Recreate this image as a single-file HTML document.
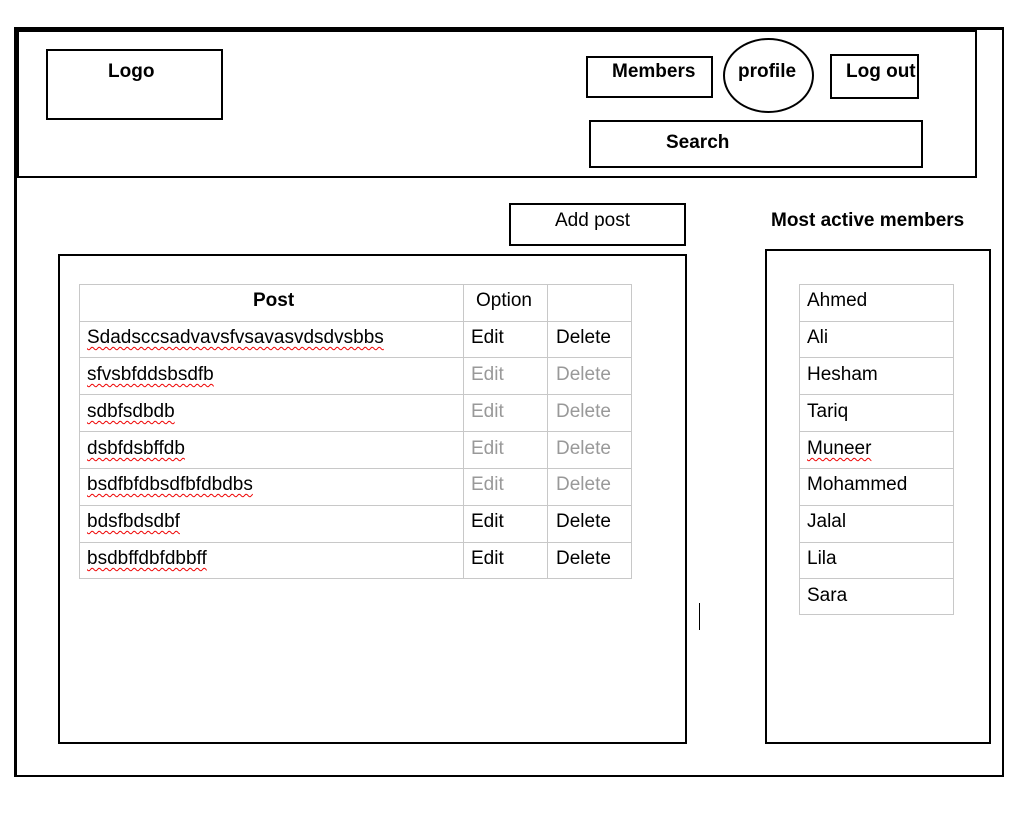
<!DOCTYPE html>
<html><head><style>
body{margin:0;width:1022px;height:817px;background:#fff;position:relative;overflow:hidden;font-family:"Liberation Sans",sans-serif;color:#000}
.b{position:absolute;border:2.5px solid #000;box-sizing:border-box}
.t{position:absolute;font-size:19px;white-space:nowrap;letter-spacing:0px}
.bold{font-weight:bold}
.g{color:#999}
.u{text-decoration:underline wavy #e00;text-decoration-thickness:1px;text-underline-offset:3px}
.h{position:absolute;height:1px;background:#c8c8c8}
.v{position:absolute;width:1px;background:#c8c8c8}
</style></head><body>
<div class="b" style="left:14px;top:27px;width:990px;height:750px;border-width:2.5px;border-top-width:3.5px;border-left-width:3px"></div>
<div class="b" style="left:17px;top:30px;width:960px;height:148px"></div>
<div class="b" style="left:46px;top:49px;width:177px;height:71px"></div>
<div class="t bold" style="left:108px;top:61px">Logo</div>
<div class="b" style="left:586px;top:56px;width:127px;height:42px"></div>
<div class="t bold" style="left:612px;top:61px">Members</div>
<div class="b" style="left:723px;top:38px;width:91px;height:75px;border-radius:50%"></div>
<div class="t bold" style="left:738px;top:61px">profile</div>
<div class="b" style="left:830px;top:54px;width:89px;height:45px"></div>
<div class="t bold" style="left:846px;top:61px">Log out</div>
<div class="b" style="left:589px;top:120px;width:334px;height:48px"></div>
<div class="t bold" style="left:666px;top:132px">Search</div>
<div class="b" style="left:509px;top:203px;width:177px;height:43px"></div>
<div class="t" style="left:555px;top:210px">Add post</div>
<div class="t bold" style="left:771px;top:210px">Most active members</div>
<div class="b" style="left:58px;top:254px;width:629px;height:490px"></div>
<div class="b" style="left:765px;top:249px;width:226px;height:495px"></div>
<div style="position:absolute;left:699px;top:603px;width:1px;height:27px;background:#000"></div>

<div class="h" style="left:79px;width:553px;top:284px"></div>
<div class="h" style="left:79px;width:553px;top:321px"></div>
<div class="h" style="left:79px;width:553px;top:357px"></div>
<div class="h" style="left:79px;width:553px;top:394px"></div>
<div class="h" style="left:79px;width:553px;top:431px"></div>
<div class="h" style="left:79px;width:553px;top:468px"></div>
<div class="h" style="left:79px;width:553px;top:505px"></div>
<div class="h" style="left:79px;width:553px;top:542px"></div>
<div class="h" style="left:79px;width:553px;top:578px"></div>
<div class="v" style="left:79px;top:284px;height:294px"></div>
<div class="v" style="left:463px;top:284px;height:294px"></div>
<div class="v" style="left:547px;top:284px;height:294px"></div>
<div class="v" style="left:631px;top:284px;height:294px"></div>
<div class="t bold" style="left:253px;top:290px">Post</div>
<div class="t" style="left:476px;top:290px">Option</div>
<div class="t u" style="left:87px;top:327px">Sdadsccsadvavsfvsavasvdsdvsbbs</div><div class="t" style="left:471px;top:327px">Edit</div><div class="t" style="left:556px;top:327px">Delete</div>
<div class="t u" style="left:87px;top:364px">sfvsbfddsbsdfb</div><div class="t g" style="left:471px;top:364px">Edit</div><div class="t g" style="left:556px;top:364px">Delete</div>
<div class="t u" style="left:87px;top:401px">sdbfsdbdb</div><div class="t g" style="left:471px;top:401px">Edit</div><div class="t g" style="left:556px;top:401px">Delete</div>
<div class="t u" style="left:87px;top:438px">dsbfdsbffdb</div><div class="t g" style="left:471px;top:438px">Edit</div><div class="t g" style="left:556px;top:438px">Delete</div>
<div class="t u" style="left:87px;top:474px">bsdfbfdbsdfbfdbdbs</div><div class="t g" style="left:471px;top:474px">Edit</div><div class="t g" style="left:556px;top:474px">Delete</div>
<div class="t u" style="left:87px;top:511px">bdsfbdsdbf</div><div class="t" style="left:471px;top:511px">Edit</div><div class="t" style="left:556px;top:511px">Delete</div>
<div class="t u" style="left:87px;top:548px">bsdbffdbfdbbff</div><div class="t" style="left:471px;top:548px">Edit</div><div class="t" style="left:556px;top:548px">Delete</div>

<div class="h" style="left:799px;width:155px;top:284px"></div>
<div class="h" style="left:799px;width:155px;top:321px"></div>
<div class="h" style="left:799px;width:155px;top:357px"></div>
<div class="h" style="left:799px;width:155px;top:394px"></div>
<div class="h" style="left:799px;width:155px;top:431px"></div>
<div class="h" style="left:799px;width:155px;top:468px"></div>
<div class="h" style="left:799px;width:155px;top:505px"></div>
<div class="h" style="left:799px;width:155px;top:542px"></div>
<div class="h" style="left:799px;width:155px;top:578px"></div>
<div class="h" style="left:799px;width:155px;top:614px"></div>
<div class="v" style="left:799px;top:284px;height:330px"></div>
<div class="v" style="left:953px;top:284px;height:330px"></div>
<div class="t" style="left:807px;top:290px">Ahmed</div>
<div class="t" style="left:807px;top:327px">Ali</div>
<div class="t" style="left:807px;top:364px">Hesham</div>
<div class="t" style="left:807px;top:401px">Tariq</div>
<div class="t u" style="left:807px;top:438px">Muneer</div>
<div class="t" style="left:807px;top:474px">Mohammed</div>
<div class="t" style="left:807px;top:511px">Jalal</div>
<div class="t" style="left:807px;top:548px">Lila</div>
<div class="t" style="left:807px;top:585px">Sara</div>
</body></html>
